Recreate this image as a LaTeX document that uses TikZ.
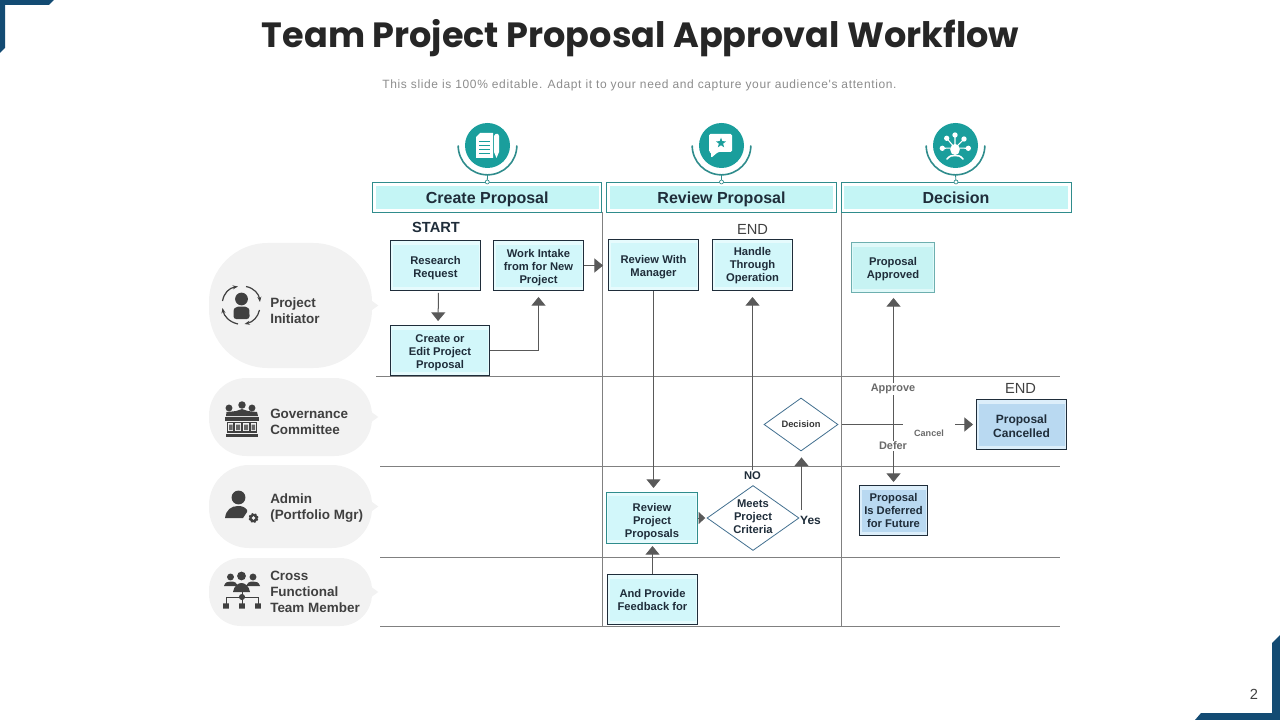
\documentclass[tikz,border=0pt]{standalone}
\usepackage{fontspec}
\usepackage{xcolor}
\usetikzlibrary{arrows.meta,shapes.geometric}
\setmainfont{Liberation Sans}
\newfontfamily\titlefont{Poppins}
\newfontfamily\subfont[LetterSpace=5.3]{Liberation Sans}
\definecolor{tnavy}{HTML}{134B73}
\definecolor{tteal}{HTML}{1A9E9C}
\definecolor{tedge}{HTML}{2F8C8C}
\definecolor{tink}{HTML}{1F2D3A}
\definecolor{tgrey}{HTML}{595959}
\definecolor{trule}{HTML}{808080}
\definecolor{tbubble}{HTML}{F2F2F2}
\definecolor{ticon}{HTML}{404040}
\definecolor{thead}{HTML}{C4F5F5}
\definecolor{tpale}{HTML}{E6FBFD}
\definecolor{tmint}{HTML}{D2F7FA}
\definecolor{tsky}{HTML}{DCEEFA}
\definecolor{tblue}{HTML}{B9D9F1}
\definecolor{tsoft}{HTML}{E0F9F9}
\definecolor{tsofter}{HTML}{C7F3F3}

\begin{document}
\begin{tikzpicture}[x=0.75pt, y=-0.75pt,
    inset/.style={path picture={\fill[#1]
        ([shift={(1.5pt,-3pt)}]path picture bounding box.north west) rectangle
        ([shift={(-1.5pt,3pt)}]path picture bounding box.south east);}},
    hdr/.style={draw=tedge, line width=0.7pt, fill=white, minimum height=22.2pt, inner sep=0pt,
                font=\bfseries\fontsize{12}{14}\selectfont, text=tink, text height=10pt, text depth=1pt,
                path picture={\fill[thead]
                  ([shift={(2.5pt,-2.5pt)}]path picture bounding box.north west) rectangle
                  ([shift={(-2.5pt,2.5pt)}]path picture bounding box.south east);}},
    flowbox/.style={draw=tink, line width=0.7pt, fill=tpale, inset=tmint, align=center, inner sep=0pt,
                    font=\bfseries\fontsize{8.4}{9.75}\selectfont, text=tink, minimum height=37.5pt},
    donebox/.style={flowbox, fill=tsky, inset=tblue},
    softbox/.style={flowbox, draw=tedge},
    decide/.style={diamond, draw=tnavy!80, line width=0.6pt, inner sep=0pt},
    decidetext/.style={align=center, inner sep=0pt, text=tink, font=\bfseries\fontsize{8.4}{9.75}\selectfont},
    tag/.style={inner sep=1pt, font=\bfseries\fontsize{8.2}{10}\selectfont, text=tgrey!90},
    flag/.style={inner sep=0pt, font=\fontsize{11}{13}\selectfont, text=ticon},
    bubble/.style={fill=tbubble, minimum width=122.25pt, inner sep=0pt},
    lanetext/.style={anchor=west, align=left, inner sep=0pt, text=ticon,
                     font=\bfseries\fontsize{10.1}{12}\selectfont},
    rule/.style={draw=trule, line width=0.75pt},
    flowline/.style={draw=tgrey, line width=0.75pt},
    flowarrow/.style={flowline, -{Triangle[length=6.5pt,width=10.5pt]}},
    badge/.style={circle, fill=tteal, minimum size=33.75pt, inner sep=0pt},
    cradle/.style={draw=tedge, line width=1.2pt},
    iconfill/.style={fill=ticon, draw=none}]

    \useasboundingbox (0,0) rectangle (1280,720);

    % corners
    \fill[tnavy] (0,0) -- (54,0) -- (49,5) -- (5,5) -- (5,48) -- (0,53) -- cycle;
    \fill[tnavy] (1280,635) -- (1272,643) -- (1272,713) -- (1201,713) -- (1195,720) -- (1280,720) -- cycle;
    \node[inner sep=0pt, font=\fontsize{11}{13}\selectfont, text=ticon] (pagenum) at (1254,694) {2};

    % title
    \node[inner sep=0pt, text=black!85, font=\titlefont\bfseries\fontsize{26.3}{32}\selectfont] (title) at (640.5,38)
      {Team Project Proposal Approval Workflow};
    \node[inner sep=0pt, text=black!45, font=\subfont\fontsize{9}{11}\selectfont] (subtitle) at (639.5,85)
      {This slide is 100\% editable. Adapt it to your need and capture your audience's attention.};

    % --- grid ---
    \draw[rule] (376,376.5) -- (1060,376.5);
    \draw[rule] (380,466.5) -- (1060,466.5);
    \draw[rule] (380,557.5) -- (1060,557.5);
    \draw[rule] (380,626.5) -- (1060,626.5);
    \draw[rule] (602.5,212) -- (602.5,627);
    \draw[rule] (841.5,212) -- (841.5,627);

    % --- column headers ---
    \node[hdr, minimum width=172pt] (hcreate) at (487.25,197.25) {Create Proposal};
    \node[hdr, minimum width=172.5pt] (hreview) at (721.5,197.25) {Review Proposal};
    \node[hdr, minimum width=172.5pt] (hdecide) at (956,197.25) {Decision};

    % --- badges ---
    \node[badge] (bcreate) at (487.5,145.5) {};
    \node[badge] (breview) at (721.5,145.5) {};
    \node[badge] (bdecide) at (955.5,145.5) {};
    % cradles under the badges
    \draw[cradle] ([xshift=-22pt]bcreate.center) arc[start angle=180, end angle=360, radius=22pt];
    \draw[cradle] ([xshift=-22pt]breview.center) arc[start angle=180, end angle=360, radius=22pt];
    \draw[cradle] ([xshift=-22pt]bdecide.center) arc[start angle=180, end angle=360, radius=22pt];
    \draw[tedge, line width=0.6pt] ([yshift=-22pt]bcreate.center) -- (hcreate.north);
    \draw[tedge, line width=0.6pt] ([yshift=-22pt]breview.center) -- (hreview.north);
    \draw[tedge, line width=0.6pt] ([yshift=-22pt]bdecide.center) -- (hdecide.north);
    \filldraw[draw=tedge, fill=white, line width=0.5pt] (hcreate.north) circle (1.5pt);
    \filldraw[draw=tedge, fill=white, line width=0.5pt] (hreview.north) circle (1.5pt);
    \filldraw[draw=tedge, fill=white, line width=0.5pt] (hdecide.north) circle (1.5pt);

    % document and pencil
    \fill[white] (476,137) -- (480,133) -- (493,133) -- (493,158) -- (476,158) -- cycle;
    \draw[tteal, line width=0.6pt] (479,141) -- (490,141) (479,145) -- (490,145) (479,149) -- (490,149) (479,153) -- (490,153);
    \fill[white] (494,136) -- (495.5,134) -- (498,134) -- (499,136) -- (499,152) -- (496.5,158) -- (494,152) -- cycle;
    % speech card and star
    \fill[white, rounded corners=1pt] (709,134) -- (732,134) -- (732,152) -- (718,152) -- (711,158) -- (711,152) -- (709,152) -- cycle;
    \node[star, star points=5, star point ratio=2.4, fill=tteal, minimum size=8pt, inner sep=0pt] (cardstar) at (721,143) {};
    % head with ideas
    \fill[white] (955,149.5) ellipse (3.6pt and 4.2pt);
    \draw[white, line width=1.2pt, line cap=round] (947,159) .. controls (950,155.5) and (952,155.5) .. (955,155.5) .. controls (958,155.5) and (960,155.5) .. (963,159);
    \draw[white, line width=0.8pt] (955,148) -- (955,135) (955,148) -- (946.7,138.3) (955,148) -- (964,139) (955,148) -- (942.3,148.3) (955,148) -- (968.3,148.3);
    \fill[white] (955,135) circle (2pt) (946.7,138.3) circle (2pt) (964,139) circle (2pt) (942.3,148.3) circle (2pt) (968.3,148.3) circle (2pt);

    % --- lanes ---
    \node[bubble, minimum height=93.75pt, rounded corners=44pt] (lproject) at (290.5,305.5) {};
    \node[bubble, minimum height=58.5pt, rounded corners=28pt] (lgov) at (290.5,417) {};
    \node[bubble, minimum height=62.25pt, rounded corners=30pt] (ladmin) at (290.5,506.5) {};
    \node[bubble, minimum height=51pt, rounded corners=24pt] (lcross) at (290.5,592) {};
    \fill[tbubble] ([yshift=4pt,xshift=-1pt]lproject.east) -- ([xshift=4.5pt]lproject.east) -- ([yshift=-4pt,xshift=-1pt]lproject.east) -- cycle;
    \fill[tbubble] ([yshift=4pt,xshift=-1pt]lgov.east) -- ([xshift=4.5pt]lgov.east) -- ([yshift=-4pt,xshift=-1pt]lgov.east) -- cycle;
    \fill[tbubble] ([yshift=4pt,xshift=-1pt]ladmin.east) -- ([xshift=4.5pt]ladmin.east) -- ([yshift=-4pt,xshift=-1pt]ladmin.east) -- cycle;
    \fill[tbubble] ([yshift=4pt,xshift=-1pt]lcross.east) -- ([xshift=4.5pt]lcross.east) -- ([yshift=-4pt,xshift=-1pt]lcross.east) -- cycle;
    \node[lanetext] (tproject) at (270,310.5) {Project\\Initiator};
    \node[lanetext] (tgov) at (270,421.5) {Governance\\Committee};
    \node[lanetext] (tadmin) at (270,508.5) {Admin\\(Portfolio Mgr)};
    \node[lanetext] (tcross) at (270,591.5) {Cross\\Functional\\Team Member};

    % initiator icon
    \fill[iconfill] (241.5,299) circle (4.8pt);
    \fill[iconfill, rounded corners=2pt] (233.5,319) -- (233.5,312) .. controls (234,308) and (238,306.5) .. (241.5,306.5) .. controls (245,306.5) and (249,308) .. (249.5,312) -- (249.5,319) -- cycle;
    \draw[ticon, line width=0.9pt, -{Stealth[length=4pt]}] (222.5,301) .. controls (224,293) and (229,288) .. (238,286.5);
    \draw[ticon, line width=0.9pt, -{Stealth[length=4pt]}] (246,286.5) .. controls (254,288) and (259,294) .. (260,302);
    \draw[ticon, line width=0.9pt, -{Stealth[length=4pt]}] (259.5,310) .. controls (258,317) and (253,322) .. (244.5,324);
    \draw[ticon, line width=0.9pt, -{Stealth[length=4pt]}] (238,324) .. controls (229,322) and (224,316) .. (222.5,308);

    % committee icon
    \fill[iconfill] (229,408) circle (2.6pt) (242,405) circle (2.8pt) (252,408) circle (2.6pt);
    \fill[iconfill] (226,416) -- (226.5,412) -- (232,411.5) -- (236,411) -- (242,409) -- (248,411) -- (252,411.5) -- (257,412) -- (258,416) -- cycle;
    \fill[iconfill] (225,417) rectangle (259,420.5);
    \draw[ticon, line width=1pt, fill=tbubble] (227.5,422.5) rectangle (256.5,432);
    \draw[ticon, line width=0.8pt] (234,422.5) -- (234,432) (242,422.5) -- (242,432) (250,422.5) -- (250,432);
    \fill[ticon!80] (229,424.5) rectangle (232.5,430) (236,424.5) rectangle (240,430) (244,424.5) rectangle (248,430) (251.5,424.5) rectangle (255,430);
    \fill[iconfill] (226,434) rectangle (258,437);

    % admin icon
    \fill[iconfill] (238.5,497.5) circle (5.2pt);
    \fill[iconfill] (225,518) .. controls (226,510) and (231,506) .. (238,506) .. controls (242,506) and (245,507) .. (247,510) -- (247,512) -- (243,518) -- cycle;
    \draw[ticon, line width=2pt, dash pattern=on 1.3pt off 0.9pt] (253.5,518) circle (2.8pt);
    \fill[ticon] (253.5,518) circle (3.2pt);
    \fill[tbubble] (253.5,518) circle (1.4pt);

    % cross functional icon
    \fill[iconfill] (230.5,577) circle (2.6pt) (253,577) circle (2.6pt);
    \fill[iconfill] (241.5,576) circle (3.3pt);
    \fill[iconfill] (224,586) .. controls (225,582) and (228,581.5) .. (231,581.5) .. controls (235,581.5) and (237,583) .. (238,586) -- cycle;
    \fill[iconfill] (246,586) .. controls (247,583) and (249,581.5) .. (253,581.5) .. controls (256,581.5) and (259,582) .. (260,586) -- cycle;
    \fill[iconfill] (233,592) .. controls (234,586) and (238,583) .. (241.5,583) .. controls (245,583) and (249,586) .. (250,592) -- cycle;
    \draw[ticon, line width=0.6pt] (242,592) -- (242,606) (226,605) -- (226,597) -- (258,597) -- (258,605);
    \fill[iconfill] (242,597) circle (2.3pt);
    \fill[iconfill] (223.2,603.3) rectangle (228.8,608.7) (239.2,603.3) rectangle (244.8,608.7) (255.2,603.3) rectangle (260.8,608.7);

    % --- flow boxes ---
    \node[flowbox, minimum width=67.5pt] (research) at (435.5,265.5) {\rule{0pt}{10.6pt}Research\\Request};
    \node[flowbox, minimum width=67.5pt] (intake) at (538.5,265.5) {\rule{0pt}{9.1pt}Work Intake\\from for New\\Project};
    \node[flowbox, minimum width=74.3pt] (create) at (440,350.5) {\rule{0pt}{9.1pt}Create or\\Edit Project\\Proposal};
    \node[flowbox, minimum width=67.5pt, minimum height=38.3pt] (review) at (653.5,265) {\rule{0pt}{9.1pt}Review With\\Manager};
    \node[flowbox, minimum width=60pt, minimum height=38.3pt] (handle) at (752.5,265) {\rule{0pt}{7.6pt}Handle\\Through\\Operation};
    \node[softbox, draw=tedge!70, fill=tsoft, inset=tsofter, minimum width=62.3pt] (approved) at (893,267.5) {\rule{0pt}{9.1pt}Proposal\\Approved};
    \node[softbox, minimum width=68.3pt, minimum height=38.3pt] (proposals) at (652,518) {\rule{0pt}{12.1pt}Review\\Project\\Proposals};
    \node[flowbox, minimum width=67.5pt] (feedback) at (652.5,599.5) {And Provide\\Feedback for};
    \node[donebox, minimum width=51pt] (deferred) at (893.5,510.5) {Proposal\\Is Deferred\\for Future};
    \node[donebox, minimum width=67.5pt, font=\bfseries\fontsize{9}{10.5}\selectfont] (cancelled) at (1021.5,424.5) {\rule{0pt}{9.6pt}Proposal\\Cancelled};
    % decisions
    \node[decide, minimum width=69pt, minimum height=48.75pt,
          label={[decidetext, yshift=0.75pt]center:{Meets\\Project\\Criteria}}] (meets) at (753,518) {};
    \node[decide, minimum width=55.5pt, minimum height=39.75pt,
          label={[decidetext, font=\bfseries\fontsize{7}{9}\selectfont, text=tgrey!60!black]center:{Decision}}] (decision) at (801,424.5) {};

    % --- flags ---
    \node[flag, font=\bfseries\fontsize{11}{13}\selectfont, text=tink] (fstart) at (436,227.5) {START};
    \node[flag] (fend) at (752.5,229) {END};
    \node[flag] (fendb) at (1020.5,388.5) {END};
    \node[inner sep=1pt, text=tink, font=\bfseries\fontsize{8.4}{10}\selectfont] (no) at (752.5,476) {NO};
    \node[inner sep=1pt, text=tink, font=\bfseries\fontsize{9}{10}\selectfont] (yes) at (810.5,520.5) {Yes};

    % --- connectors ---
    \coordinate (yesup) at (801.5,510);
    \coordinate (split) at (893.5,424.5);
    \coordinate (cancelstub) at (903,424.5);
    \coordinate (cancelout) at (955,424.5);
    \draw[flowarrow, shorten <=1.5pt, shorten >=3pt] ([xshift=2.25pt]research.south) -- ([xshift=-1.5pt,yshift=0pt]create.north);
    \draw[flowarrow, shorten >=4.5pt] (create.east) -| (intake.south);
    \draw[flowarrow, shorten >=3.75pt] (intake.east) -- (intake.east -| review.west);
    \draw[flowarrow, shorten >=3pt] (review.south) -- (review.south |- proposals.north);
    \draw[flowarrow, shorten >=4.5pt] (no.north) -- (handle.south);
    \draw[flowarrow, shorten >=4.5pt] (yesup) -- (yesup |- decision.south);
    \draw[flowarrow, shorten >=1pt, -{Triangle[length=5pt,width=9pt]}] (proposals.east) -- (meets.west);
    \draw[flowarrow, shorten >=1.5pt] (feedback.north) -- (feedback.north |- proposals.south);
    \draw[flowline, shorten <=3pt] (decision.east) -- (cancelstub);
    \draw[flowarrow, shorten >=2.25pt] (cancelout) -- (cancelled.west);
    \draw[flowarrow, shorten >=3.75pt] (split) -- (split |- approved.south);
    \draw[flowarrow, shorten >=2.25pt] (split) -- (deferred.north);

    % --- connector labels ---
    \node[tag, fill=white] (lapprove) at (893,389) {Approve};
    \node[tag, fill=white] (ldefer) at (893,446) {Defer};
    \node[tag, font=\bfseries\fontsize{6.8}{8}\selectfont] (lcancel) at (929,433) {Cancel};
  \end{tikzpicture}
\end{document}
